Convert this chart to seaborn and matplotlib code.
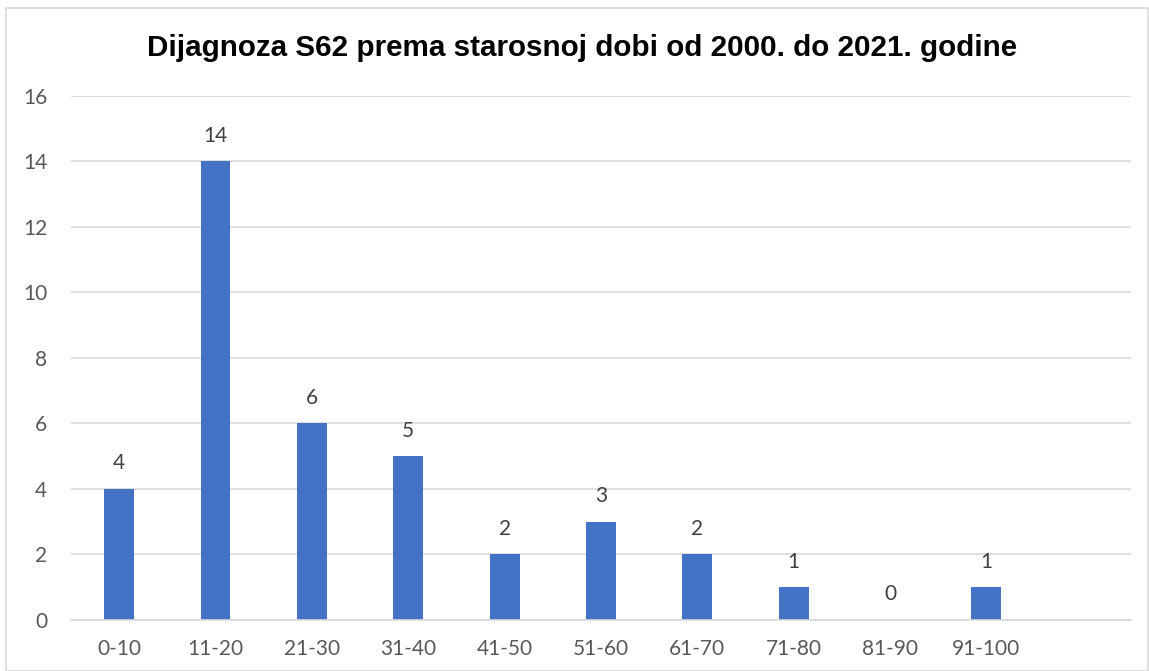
import matplotlib
matplotlib.use('Agg')
import matplotlib.pyplot as plt
import seaborn as sns
import pandas as pd
from matplotlib.patches import Rectangle

# data
age_groups = ['0-10', '11-20', '21-30', '31-40', '41-50', '51-60', '61-70', '71-80', '81-90', '91-100']
counts = [4, 14, 6, 5, 2, 3, 2, 1, 0, 1]
title = 'Dijagnoza S62 prema starosnoj dobi od 2000. do 2021. godine'

df = pd.DataFrame({'age': age_groups, 'count': counts})

sns.set_style('white')
plt.rcParams['font.family'] = ['Lato', 'DejaVu Sans']

fig = plt.figure(figsize=(11.49, 6.71), dpi=100)
ax = fig.add_axes([0.0618, 0.076, 0.9225, 0.781])

sns.barplot(data=df, x='age', y='count', color='#4472C4', width=0.31, saturation=1,
            linewidth=0, ax=ax)

ax.set_xlim(-0.5, 10.5)
ax.set_ylim(0, 16)
ax.set_yticks(range(0, 17, 2))
ax.yaxis.grid(True, color='#d9d9d9', linewidth=1.2)
ax.set_axisbelow(True)
for s in ['top', 'right', 'left']:
    ax.spines[s].set_visible(False)
ax.spines['bottom'].set_color('#d9d9d9')
ax.spines['bottom'].set_linewidth(1.2)
ax.tick_params(axis='both', length=0, labelsize=15, colors='#595959')
ax.tick_params(axis='x', pad=14)
ax.tick_params(axis='y', pad=17)
ax.set_xlabel('')
ax.set_ylabel('')

# value labels
for i, v in enumerate(counts):
    ax.text(i, v + 0.78, str(v), ha='center', va='center', fontsize=15, color='#404040')

fig.text(0.507, 0.929, title, ha='center', va='center', fontsize=21.3, fontweight='bold',
         family=['Liberation Sans', 'DejaVu Sans'], color='black')

# chart border
fig.patches.append(Rectangle((0.005, 0.0), 0.994, 0.988, transform=fig.transFigure,
                             fill=False, edgecolor='#d9d9d9', linewidth=1.2))

fig.savefig('out.png', dpi=100)
